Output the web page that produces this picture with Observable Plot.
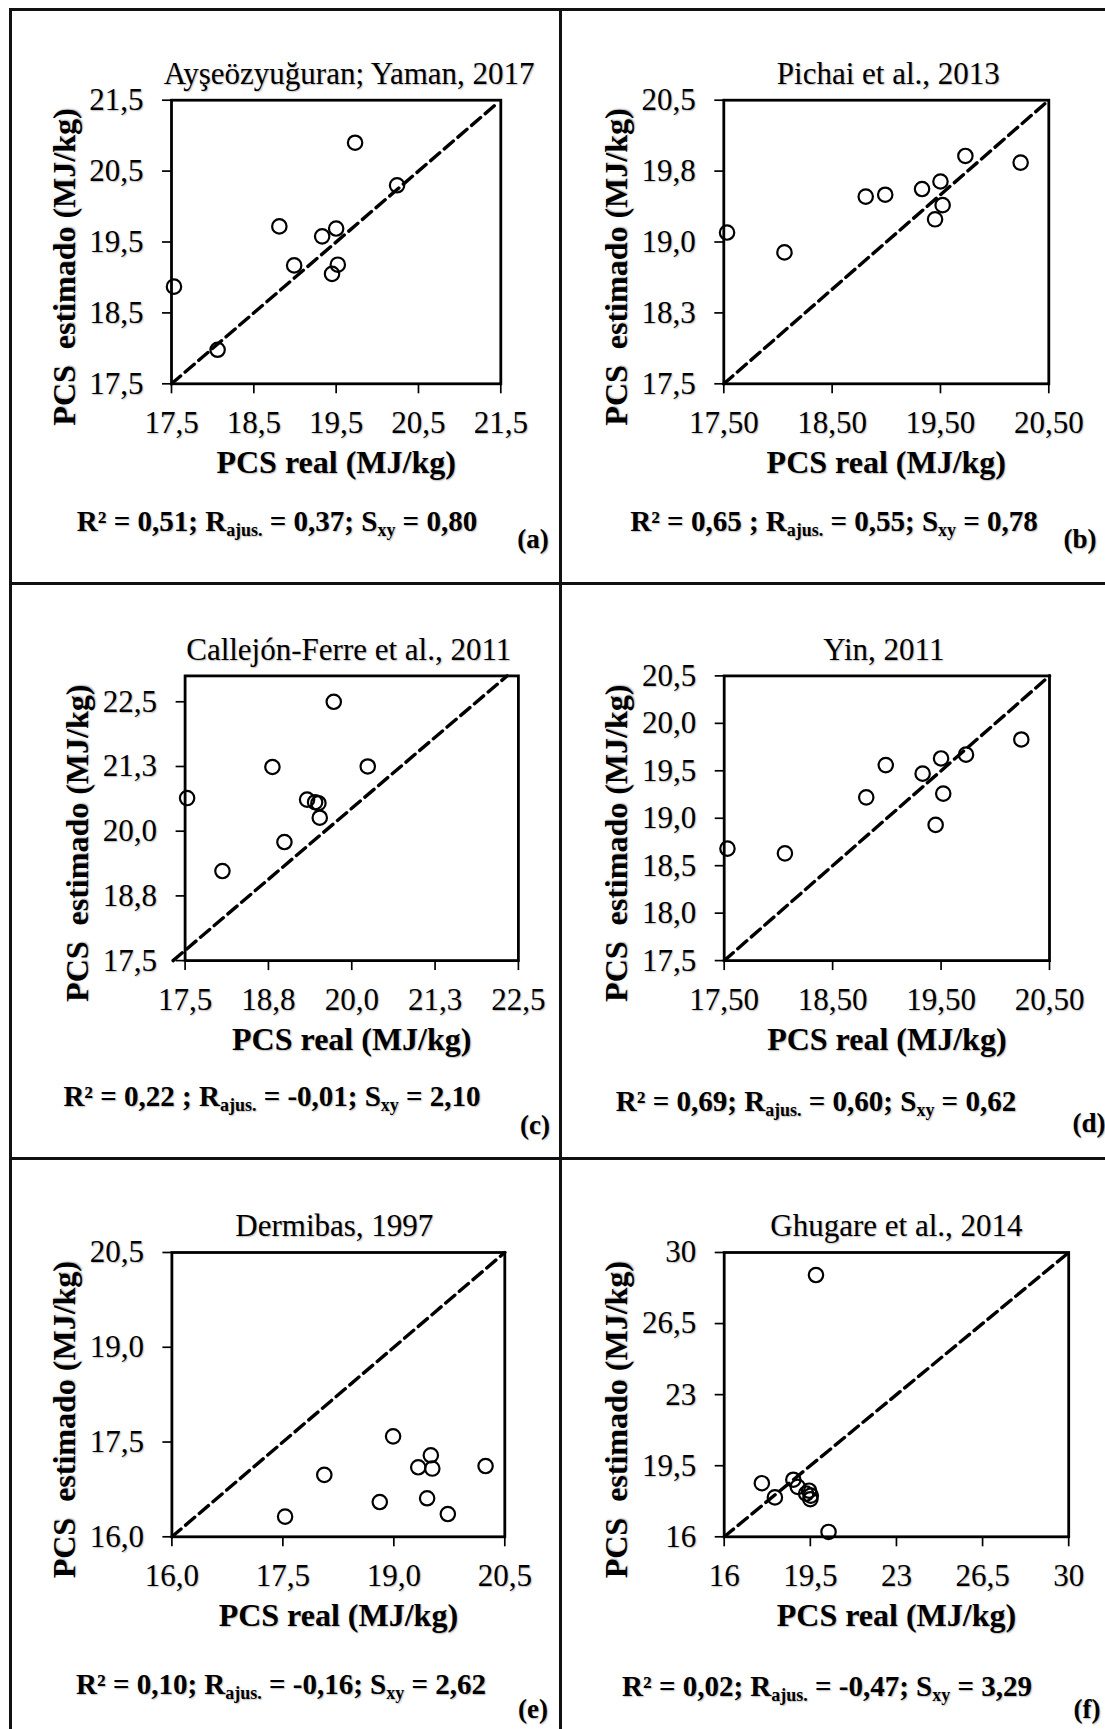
<!DOCTYPE html>
<html>
<head>
<meta charset="utf-8">
<script src="https://cdn.jsdelivr.net/npm/d3@7"></script>
<script src="https://cdn.jsdelivr.net/npm/@observablehq/plot@0.6"></script>
<style>
  html, body { margin: 0; padding: 0; background: #fff; }
  #wrap { position: relative; width: 1105px; height: 1729px; overflow: hidden; background: #fff;
          font-family: "Liberation Serif", "Times New Roman", serif; }
  .panel { position: absolute; }
  .panel svg { overflow: visible; background: transparent !important; }
  .panel svg text { text-shadow: 1px 1px 1.5px rgba(0,0,0,0.28); }
  .rule { position: absolute; background: #111; }
  .note { position: absolute; white-space: pre; font-weight: bold; line-height: 1; color: #000;
          text-shadow: 1px 1px 1.5px rgba(0,0,0,0.28); }
  .note sub { font-size: 0.62em; line-height: 0; vertical-align: -0.3em; }
</style>
</head>
<body>
<div id="wrap"></div>
<script>
// ---------------- DATA ----------------
const panelLetters = ["(a)", "(b)", "(c)", "(d)", "(e)", "(f)"];
const panelTitles = ["Ayşeözyuğuran; Yaman, 2017", "Pichai et al., 2013", "Callejón-Ferre et al., 2011",
                     "Yin, 2011", "Dermibas, 1997", "Ghugare et al., 2014"];
const xAxisTitle = "PCS real (MJ/kg)";
const yAxisTitle = "PCS  estimado (MJ/kg)";

// PCS real (shared by all panels)
const pcsReal = [17.53, 18.06, 18.81, 18.99, 19.33, 19.45, 19.50, 19.52, 19.73, 20.24];
// PCS estimado per model
const estA = [18.87, 17.98, 19.72, 19.17, 19.58, 19.05, 19.69, 19.18, 20.90, 20.30];
const estB = [19.10, 18.89, 19.48, 19.50, 19.56, 19.24, 19.64, 19.39, 19.91, 19.84];
const estC = [20.64, 19.23, 21.24, 19.79, 20.61, 20.56, 20.54, 20.26, 22.50, 21.25];
const estD = [18.68, 18.63, 19.22, 19.56, 19.47, 18.93, 19.63, 19.26, 19.67, 19.83];
const estE = [16.32, 16.98, 16.55, 17.59, 17.10, 16.61, 17.29, 17.08, 16.36, 17.12];
const estF = [18.64, 17.94, 18.81, 18.46, 18.13, 18.27, 17.85, 18.03, 28.89, 16.24];
const estimates = [estA, estB, estC, estD, estE, estF];

const xDomains = [[17.5, 21.5], [17.5, 20.5], [17.5, 22.5], [17.5, 20.5], [16, 20.5], [16, 30]];
const yDomains = [[17.5, 21.5], [17.5, 20.5], [17.5, 23], [17.5, 20.5], [16, 20.5], [16, 30]];

const xTicks = [[17.5, 18.5, 19.5, 20.5, 21.5], [17.5, 18.5, 19.5, 20.5], [17.5, 18.75, 20, 21.25, 22.5],
                [17.5, 18.5, 19.5, 20.5], [16, 17.5, 19, 20.5], [16, 19.5, 23, 26.5, 30]];
const xTickLabels = [["17,5", "18,5", "19,5", "20,5", "21,5"], ["17,50", "18,50", "19,50", "20,50"],
                     ["17,5", "18,8", "20,0", "21,3", "22,5"], ["17,50", "18,50", "19,50", "20,50"],
                     ["16,0", "17,5", "19,0", "20,5"], ["16", "19,5", "23", "26,5", "30"]];
const yTicks = [[17.5, 18.5, 19.5, 20.5, 21.5], [17.5, 18.25, 19, 19.75, 20.5], [17.5, 18.75, 20, 21.25, 22.5],
                [17.5, 18, 18.5, 19, 19.5, 20, 20.5], [16, 17.5, 19, 20.5], [16, 19.5, 23, 26.5, 30]];
const yTickLabels = [["17,5", "18,5", "19,5", "20,5", "21,5"], ["17,5", "18,3", "19,0", "19,8", "20,5"],
                     ["17,5", "18,8", "20,0", "21,3", "22,5"], ["17,5", "18,0", "18,5", "19,0", "19,5", "20,0", "20,5"],
                     ["16,0", "17,5", "19,0", "20,5"], ["16", "19,5", "23", "26,5", "30"]];

// 1:1 reference line end points (as drawn)
const refLineX = [[17.5, 21.45], [17.5, 20.5], [17.32, 22.33], [17.5, 20.5], [16, 20.5], [16, 30]];
const refLineY = [[17.5, 21.45], [17.5, 20.5], [17.5, 23.0], [17.5, 20.5], [16, 20.5], [16, 30]];

// statistics text
const statR2 = ["0,51", "0,65 ", "0,22 ", "0,69", "0,10", "0,02"];
const statRadj = ["0,37", "0,55", "-0,01", "0,60", "-0,16", "-0,47"];
const statSxy = ["0,80", "0,78", "2,10", "0,62", "2,62", "3,29"];

// ---------------- LAYOUT ----------------
// svg box (left, top, w, h) and frame [left, right, top, bottom] in page px
const layout = [
  {left: 0,   top: 0,    w: 560, h: 583, frame: [171, 500.3, 99.7, 383.3],  titleDx: 13, stats: [277, 531.5], letter: [533, 549]},
  {left: 560, top: 0,    w: 545, h: 583, frame: [723.3, 1048.3, 99.7, 383.3], titleDx: 2, stats: [834, 531.5], letter: [1080, 549]},
  {left: 0,   top: 583,  w: 560, h: 576, frame: [184.6, 517.9, 675.4, 960.1], titleDx: -3, stats: [272, 1106], letter: [535, 1134.7]},
  {left: 560, top: 583,  w: 545, h: 576, frame: [723.7, 1049, 675.4, 960.1],  titleDx: -3, stats: [816, 1111], letter: [1089, 1133]},
  {left: 0,   top: 1159, w: 560, h: 570, frame: [171.4, 504.3, 1252, 1536.3], titleDx: -4, stats: [281, 1694], letter: [533, 1718.5]},
  {left: 560, top: 1159, w: 545, h: 570, frame: [723.7, 1068.2, 1252, 1536.3], titleDx: 0, stats: [827, 1696], letter: [1087, 1718.5]}
];

const wrap = document.getElementById("wrap");
const FONT = '"Liberation Serif", "Times New Roman", serif';

function addRule(l, t, w, h) {
  const d = document.createElement("div");
  d.className = "rule";
  Object.assign(d.style, {left: l + "px", top: t + "px", width: w + "px", height: h + "px"});
  wrap.appendChild(d);
}
function addNote(html, cx, baseline, fs) {
  const d = document.createElement("div");
  d.className = "note";
  d.innerHTML = html;
  Object.assign(d.style, {left: cx + "px", top: (baseline - 0.84 * fs) + "px", fontSize: fs + "px",
                          transform: "translateX(-50%)"});
  wrap.appendChild(d);
}

const fmt = (ticks, labels) => d => {
  const i = ticks.findIndex(t => Math.abs(t - d) < 1e-9);
  return i >= 0 ? labels[i] : "";
};

layout.forEach((L, k) => {
  const [fl, fr, ft, fb] = L.frame;
  const ml = fl - L.left, mr = L.left + L.w - fr, mt = ft - L.top, mb = L.top + L.h - fb;
  const pts = pcsReal.map((x, i) => ({x, y: estimates[k][i]}));
  const ref = refLineX[k].map((x, i) => ({x, y: refLineY[k][i]}));

  const svg = Plot.plot({
    width: L.w, height: L.h,
    marginLeft: ml, marginRight: mr, marginTop: mt, marginBottom: mb,
    style: {fontFamily: FONT, fontSize: "31px", color: "#000", background: "transparent", overflow: "visible"},
    x: {domain: xDomains[k]},
    y: {domain: yDomains[k]},
    marks: [
      Plot.axisX({ticks: xTicks[k], tickFormat: fmt(xTicks[k], xTickLabels[k]), tickSize: 10, tickPadding: 17,
                  strokeWidth: 1.7, label: null, fontSize: 31, fontFamily: FONT}),
      Plot.axisY({ticks: yTicks[k], tickFormat: fmt(yTicks[k], yTickLabels[k]), tickSize: 9, tickPadding: 19,
                  strokeWidth: 1.7, label: null, fontSize: 31, fontFamily: FONT}),
      Plot.line(ref, {x: "x", y: "y", stroke: "#000", strokeWidth: 3.4, strokeDasharray: "12,6"}),
      Plot.dot(pts, {x: "x", y: "y", r: 7.2, stroke: "#000", strokeWidth: 2.2, fill: "none"}),
      Plot.frame({stroke: "#000", strokeWidth: 2.8}),
      Plot.text([panelTitles[k]], {text: d => d, frameAnchor: "top", lineAnchor: "middle", textAnchor: "middle",
                                   dx: L.titleDx, dy: -26, fontSize: 31, fontFamily: FONT}),
      Plot.text([xAxisTitle], {text: d => d, frameAnchor: "bottom", lineAnchor: "middle", textAnchor: "middle",
                               dy: 79, fontSize: 32, fontWeight: "bold", fontFamily: FONT}),
      Plot.text([yAxisTitle], {text: d => d, frameAnchor: "left", lineAnchor: "middle", textAnchor: "middle",
                               rotate: -90, dx: -107, dy: 25, fontSize: 32, fontWeight: "bold", fontFamily: FONT})
    ]
  });
  const holder = document.createElement("div");
  holder.className = "panel";
  Object.assign(holder.style, {left: L.left + "px", top: L.top + "px", width: L.w + "px", height: L.h + "px"});
  holder.appendChild(svg);
  wrap.appendChild(holder);

  addNote(`R² = ${statR2[k]}; R<sub>ajus.</sub> = ${statRadj[k]}; S<sub>xy</sub> = ${statSxy[k]}`,
          L.stats[0], L.stats[1], 29);
  addNote(panelLetters[k], L.letter[0], L.letter[1], 27);
});

// panel borders
addRule(9.2, 7.6, 1105, 3);      // top
addRule(9.2, 7.6, 3, 1729);      // left
addRule(558.5, 7.6, 3, 1729);    // middle
addRule(9.2, 582, 1105, 3);      // row divider 1
addRule(9.2, 1157.3, 1105, 3);   // row divider 2
</script>
</body>
</html>
